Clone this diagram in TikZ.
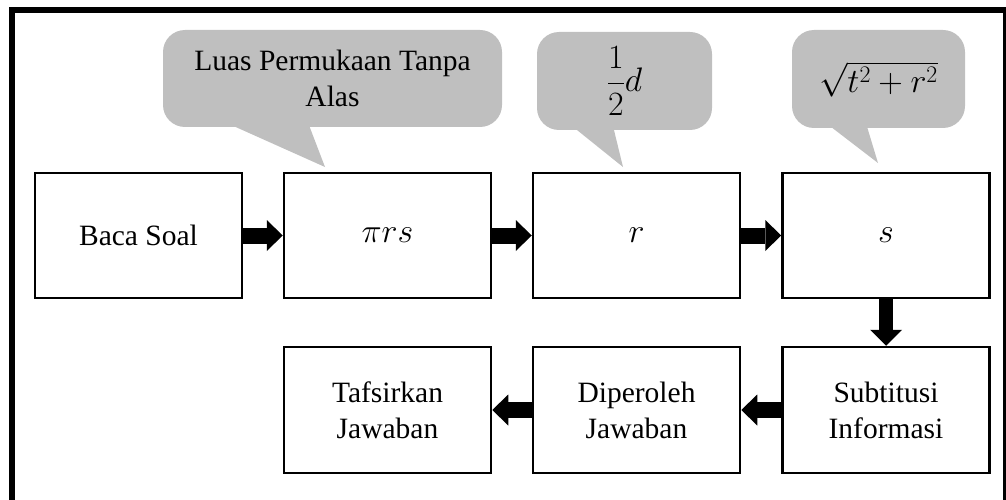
\RequirePackage{fix-cm}
\documentclass[tikz,border=0pt]{standalone}
\usepackage{fontspec}
\setmainfont{Liberation Serif}
\usetikzlibrary{arrows.meta}
\definecolor{bubblegray}{RGB}{191,191,191}
\begin{document}
\begin{tikzpicture}[x=1pt,y=-1pt,
  stepbox/.style={draw, line width=2.5pt, minimum width=207pt, minimum height=125pt,
    align=center, inner sep=0pt, font=\fontsize{29.5}{36}\selectfont},
  mathsize/.style={font=\fontsize{34}{40}\selectfont},
  bubble/.style={fill=bubblegray, rounded corners=22pt, inner sep=0pt, align=center,
    font=\fontsize{29.5}{36}\selectfont},
  blockarrow/.style={line width=16pt, -{Triangle[length=16pt,width=31pt,line width=0pt]}},
  downarrow/.style={line width=14pt, -{Triangle[length=16pt,width=32pt,line width=0pt]}},
]
\useasboundingbox (0,0) rectangle (1006,500);
\clip (0,0) rectangle (1006,500);

% outer frame
\draw[line width=5.5pt] (12,10) rectangle (1006,530);

% speech bubbles with their pointers
\fill[bubblegray] (220,120) -- (307,120) -- (325,167) -- cycle;
\fill[bubblegray] (567,122) -- (612,122) -- (623,167) -- cycle;
\fill[bubblegray] (822,120) -- (865,120) -- (878,163) -- cycle;
\node[bubble, minimum width=339pt, minimum height=97pt] (c1) at (332.5,78.5)
  {Luas Permukaan Tanpa\\Alas};
\node[bubble, mathsize, minimum width=175pt, minimum height=98pt] (c2) at (624.5,81)
  {$\displaystyle\frac{1}{2}d$};
\node[bubble, mathsize, minimum width=173pt, minimum height=98pt] (c3) at (878.5,79)
  {$\sqrt{t^2+r^2}$};

% top row of steps
\node[stepbox] (baca) at (138.5,235.5) {Baca Soal};
\node[stepbox, mathsize] (luas) at (387.5,235.5) {$\pi r s$};
\node[stepbox, mathsize] (jari) at (636.5,235.5) {$r$};
\node[stepbox, mathsize] (garis) at (886,235.5) {$s$};

% bottom row of steps
\node[stepbox, minimum height=126pt] (tafsir) at (387.5,410) {Tafsirkan\\Jawaban};
\node[stepbox, minimum height=126pt] (hasil) at (636.5,410) {Diperoleh\\Jawaban};
\node[stepbox, minimum height=126pt] (subst) at (886,410) {Subtitusi\\Informasi};

% block arrows between steps
\draw[blockarrow] (baca.east) -- (luas.west);
\draw[blockarrow] (luas.east) -- (jari.west);
\draw[blockarrow] (jari.east) -- (garis.west);
\draw[downarrow] (garis.south) -- (subst.north);
\draw[blockarrow] (subst.west) -- (hasil.east);
\draw[blockarrow] (hasil.west) -- (tafsir.east);
\end{tikzpicture}
\end{document}
